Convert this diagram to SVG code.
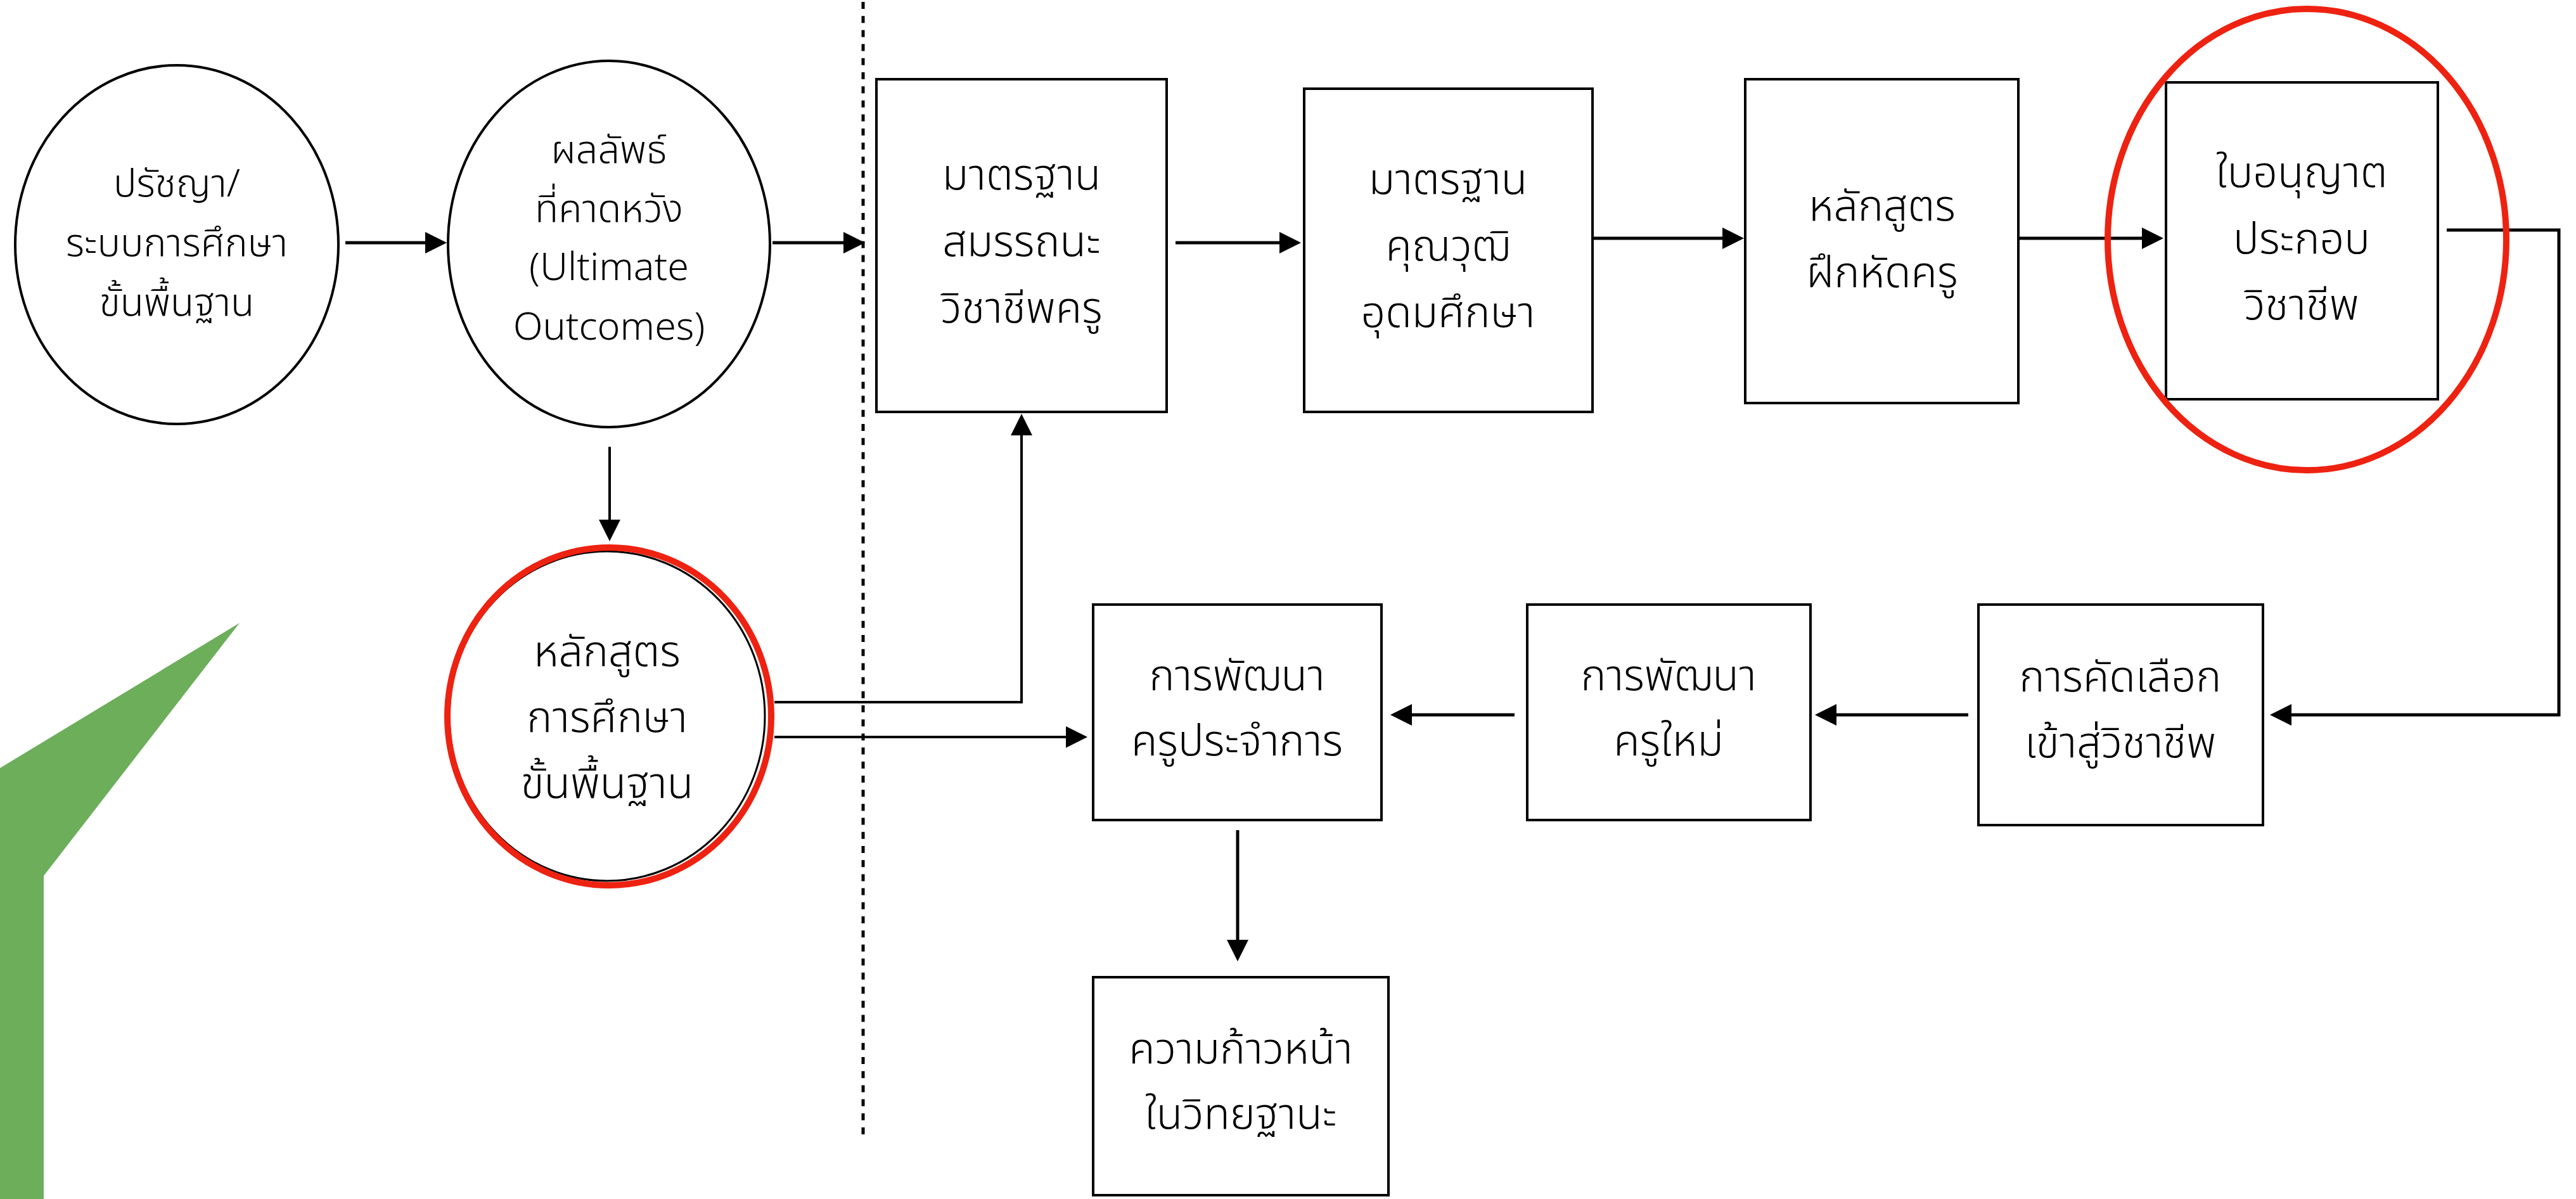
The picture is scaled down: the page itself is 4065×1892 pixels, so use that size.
<svg xmlns="http://www.w3.org/2000/svg" width="4065" height="1892" viewBox="0 0 4065 1892">
<style>
.box{fill:#fff;stroke:#000;stroke-width:4}
.ell{fill:#fff;stroke:#000;stroke-width:4}
.red{fill:none;stroke:#ee2211;stroke-width:10}
.t{font-family:"Noto Sans Thai","Noto Sans","DejaVu Sans",sans-serif;font-weight:300;fill:#000;text-anchor:middle}
.s1{font-size:61px}
.s2{font-size:68px}
.ln{fill:none;stroke:#000;stroke-width:5}
.ln4{fill:none;stroke:#000;stroke-width:4}
</style>
<defs>
<marker id="ah" markerUnits="userSpaceOnUse" markerWidth="34" markerHeight="34" refX="29" refY="17" orient="auto">
<path d="M0,0 L34,17 L0,34 Z" fill="#000"/>
</marker>
</defs>
<rect width="4065" height="1892" fill="#fff"/>
<polygon points="0,1212 378,983 69,1382 69,1892 0,1892" fill="#6cae5a"/>
<line x1="1362" y1="3" x2="1362" y2="1800" stroke="#000" stroke-width="5" stroke-dasharray="11 11.2"/>
<g id="connectors">
<path class="ln" d="M545,383 H700" marker-end="url(#ah)"/>
<path class="ln" d="M1219,383 H1360" marker-end="url(#ah)"/>
<path class="ln" d="M1855,383 H2048" marker-end="url(#ah)"/>
<path class="ln" d="M2515,376 H2747" marker-end="url(#ah)"/>
<path class="ln" d="M3187,376 H3409" marker-end="url(#ah)"/>
<path class="ln" d="M3861,363 H4038 V1128 H3587" marker-end="url(#ah)"/>
<path class="ln" d="M3106,1128 H2869" marker-end="url(#ah)"/>
<path class="ln" d="M2390,1128 H2199" marker-end="url(#ah)"/>
<path class="ln4" d="M1222,1108 H1612 V658" marker-end="url(#ah)"/>
<path class="ln4" d="M1222,1163 H1711" marker-end="url(#ah)"/>
<path class="ln" d="M1953,1310 V1512" marker-end="url(#ah)"/>
<path class="ln4" d="M962,705 V849" marker-end="url(#ah)"/>
</g>
<g id="n1">
<ellipse class="ell" cx="279" cy="386" rx="255" ry="283"/>
<text class="t s1" x="279" y="310">ปรัชญา/</text>
<text class="t s1" x="279" y="404">ระบบการศึกษา</text>
<text class="t s1" x="279" y="498">ขั้นพื้นฐาน</text>
</g>
<g id="n2">
<ellipse class="ell" cx="961" cy="385" rx="254" ry="289"/>
<text class="t s1" x="961" y="257">ผลลัพธ์</text>
<text class="t s1" x="961" y="350">ที่คาดหวัง</text>
<text class="t s1" x="961" y="442">(Ultimate</text>
<text class="t s1" x="961" y="536">Outcomes)</text>
</g>
<g id="n3">
<ellipse cx="958" cy="1130" rx="249" ry="260" fill="#fff" stroke="#000" stroke-width="3"/>
<ellipse class="red" cx="961.5" cy="1130.5" rx="255.5" ry="266.5"/>
<text class="t s2" x="958" y="1051">หลักสูตร</text>
<text class="t s2" x="958" y="1155">การศึกษา</text>
<text class="t s2" x="958" y="1259">ขั้นพื้นฐาน</text>
</g>
<g id="b1">
<rect class="box" x="1383" y="125" width="458" height="525"/>
<text class="t s2" x="1612" y="299">มาตรฐาน</text>
<text class="t s2" x="1612" y="404">สมรรถนะ</text>
<text class="t s2" x="1612" y="509">วิชาชีพครู</text>
</g>
<g id="b2">
<rect class="box" x="2058" y="140" width="455" height="510"/>
<text class="t s2" x="2285" y="306">มาตรฐาน</text>
<text class="t s2" x="2285" y="411">คุณวุฒิ</text>
<text class="t s2" x="2285" y="516">อุดมศึกษา</text>
</g>
<g id="b3">
<rect class="box" x="2754" y="125" width="431" height="511"/>
<text class="t s2" x="2970" y="348">หลักสูตร</text>
<text class="t s2" x="2970" y="453">ฝึกหัดครู</text>
</g>
<g id="b4">
<rect class="box" x="3418" y="130" width="429" height="500"/>
<text class="t s2" x="3632" y="295">ใบอนุญาต</text>
<text class="t s2" x="3632" y="400">ประกอบ</text>
<text class="t s2" x="3632" y="504">วิชาชีพ</text>
<ellipse class="red" cx="3640.5" cy="378" rx="314.5" ry="364"/>
</g>
<g id="b5">
<rect class="box" x="3122" y="954" width="449" height="348"/>
<text class="t s2" x="3346" y="1091">การคัดเลือก</text>
<text class="t s2" x="3346" y="1195">เข้าสู่วิชาชีพ</text>
</g>
<g id="b6">
<rect class="box" x="1725" y="954" width="455" height="340"/>
<text class="t s2" x="1952" y="1089">การพัฒนา</text>
<text class="t s2" x="1952" y="1192">ครูประจำการ</text>
</g>
<g id="b7">
<rect class="box" x="2410" y="954" width="447" height="340"/>
<text class="t s2" x="2633" y="1089">การพัฒนา</text>
<text class="t s2" x="2633" y="1192">ครูใหม่</text>
</g>
<g id="b8">
<rect class="box" x="1725" y="1542" width="466" height="344"/>
<text class="t s2" x="1958" y="1678">ความก้าวหน้า</text>
<text class="t s2" x="1958" y="1781">ในวิทยฐานะ</text>
</g>
</svg>
